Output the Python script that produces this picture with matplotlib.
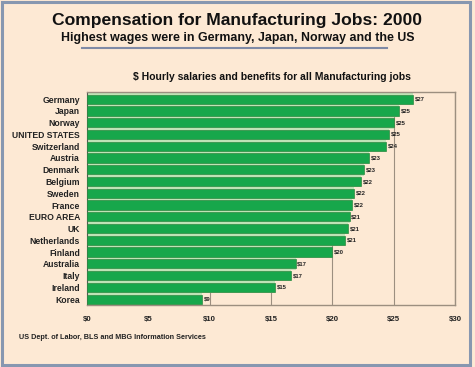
import matplotlib.pyplot as plt
from matplotlib.patches import Rectangle
from matplotlib.lines import Line2D

plt.rcParams['font.family'] = ['Liberation Sans', 'DejaVu Sans']
plt.rcParams['font.weight'] = 'bold'

# Data
countries = ['Germany', 'Japan', 'Norway', 'UNITED STATES', 'Switzerland', 'Austria',
             'Denmark', 'Belgium', 'Sweden', 'France', 'EURO AREA', 'UK',
             'Netherlands', 'Finland', 'Australia', 'Italy', 'Ireland', 'Korea']
wages = [26.6, 25.4, 25.0, 24.6, 24.4, 23.0, 22.6, 22.3, 21.8, 21.6, 21.4, 21.3,
         21.0, 20.0, 17.0, 16.6, 15.3, 9.4]
xticks = [0, 5, 10, 15, 20, 25, 30]

bg = '#fde9d4'
green = '#17a74b'

fig = plt.figure(figsize=(4.75, 3.67), dpi=100, facecolor=bg)

# outer frame
fig.patches.append(Rectangle((0.004, 0.006), 0.985, 0.988, transform=fig.transFigure,
                             fill=False, edgecolor='#8797b0', linewidth=2.2))

ax = fig.add_axes([0.183, 0.169, 0.775, 0.580])
ax.set_facecolor(bg)

y = list(range(len(countries)))
# pale stripe behind each bar, then the bar itself
ax.barh(y, wages, height=1.0, color='#bfe3b6', zorder=2)
ax.barh(y, wages, height=0.78, color=green, edgecolor='#2f8a41', linewidth=0.5, zorder=3)

for yi, v in zip(y, wages):
    ax.text(v + 0.15, yi, f'${round(v)}', va='center', ha='left', fontsize=4.2,
            fontweight='bold', color='#222222', zorder=4)

ax.set_xlim(0, 30)
ax.set_ylim(len(countries) - 0.5, -0.6)
ax.set_xticks(xticks)
ax.set_xticklabels([f'${t}' for t in xticks], fontsize=5.6, fontweight='bold', color='#222222')
ax.set_yticks(y)
ax.set_yticklabels(countries, fontsize=6.2, fontweight='bold', color='#222222')
ax.tick_params(length=0, pad=5)
ax.tick_params(axis='x', pad=8)
ax.grid(axis='x', color='#9c8f80', linewidth=0.8, zorder=1)
for side in ['top', 'right', 'bottom']:
    ax.spines[side].set_color('#9c8f80')
    ax.spines[side].set_linewidth(1.0)
ax.spines['left'].set_color('#555555')
ax.spines['left'].set_linewidth(0.8)

fig.text(0.5, 0.944, 'Compensation for Manufacturing Jobs: 2000', ha='center', va='center',
         fontsize=12.6, fontweight='bold', color='#111111')
fig.text(0.5, 0.896, 'Highest wages were in Germany, Japan, Norway and the US', ha='center',
         va='center', fontsize=8.9, fontweight='bold', color='#111111')
fig.lines.append(Line2D([0.173, 0.815], [0.869, 0.869], transform=fig.transFigure,
                        color='#7f8aa6', linewidth=1.5))
fig.text(0.573, 0.79, '$ Hourly salaries and benefits for all Manufacturing jobs', ha='center',
         va='center', fontsize=7.5, fontweight='bold', color='#111111')
fig.text(0.04, 0.081, 'US Dept. of Labor, BLS and MBG Information Services', ha='left',
         va='center', fontsize=5.2, fontweight='bold', color='#222222')

fig.savefig('out.png', dpi=100, facecolor=bg)
